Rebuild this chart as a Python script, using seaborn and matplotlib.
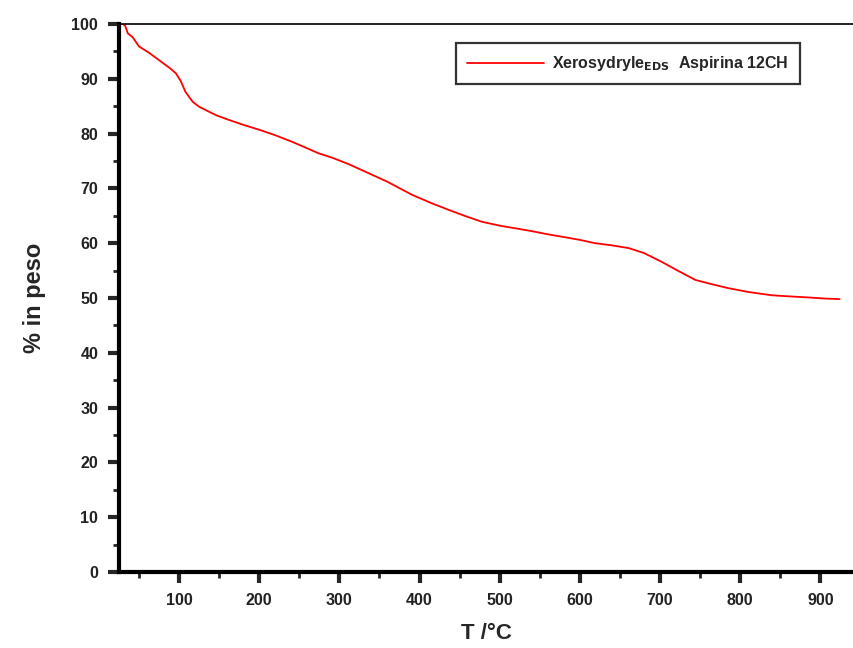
import seaborn as sns
import pandas as pd
import matplotlib.pyplot as plt
from matplotlib.ticker import MultipleLocator

# TGA curve
temp = [25, 30, 33, 36, 42, 50, 62, 75, 88, 96, 102, 108, 117, 125, 133, 147, 162,
        180, 200, 220, 241, 260, 274, 291, 312, 333, 360, 391, 415, 436, 458, 478,
        500, 520, 540, 557, 577, 600, 619, 640, 661, 680, 702, 722, 744, 765, 785,
        810, 839, 860, 885, 905, 924]
weight = [100, 100, 99.6, 98.3, 97.6, 95.9, 94.8, 93.4, 92.0, 91.0, 89.6, 87.6, 85.8,
          84.9, 84.3, 83.3, 82.5, 81.6, 80.7, 79.7, 78.5, 77.3, 76.4, 75.6, 74.4,
          73.0, 71.2, 68.8, 67.3, 66.1, 64.9, 63.9, 63.2, 62.7, 62.2, 61.7, 61.2,
          60.6, 60.0, 59.6, 59.1, 58.2, 56.6, 55.0, 53.3, 52.5, 51.8, 51.1, 50.5,
          50.3, 50.1, 49.9, 49.8]

df = pd.DataFrame({"T": temp, "peso": weight})

sns.set_style("white")
plt.rcParams['font.family'] = ['Liberation Sans', 'DejaVu Sans']
plt.rcParams['font.weight'] = 'bold'

fig = plt.figure(figsize=(8.54, 6.48), dpi=100)
ax = fig.add_axes([0.1393, 0.1173, 0.8607, 0.8457])

sns.lineplot(data=df, x="T", y="peso", color="#ff0000", linewidth=1.3, ax=ax,
             label=r"Xerosydryle$_{\mathbf{EDS}}$  Aspirina 12CH")

ax.set_xlim(25, 942)
ax.set_ylim(0, 100)
ax.xaxis.set_major_locator(MultipleLocator(100))
ax.xaxis.set_minor_locator(MultipleLocator(50))
ax.yaxis.set_major_locator(MultipleLocator(10))
ax.yaxis.set_minor_locator(MultipleLocator(5))

ax.spines['right'].set_visible(False)
ax.spines['top'].set_linewidth(1.2)
ax.spines['left'].set_linewidth(3)
ax.spines['bottom'].set_linewidth(3)
for s in ax.spines.values():
    s.set_color('black')

ax.tick_params(which='major', direction='out', length=8, width=3, pad=7,
               labelsize=11.5, labelcolor='#222222', bottom=True, left=True)
ax.tick_params(which='minor', direction='out', length=4, width=2,
               bottom=True, left=True)
ax.set_xticks([100, 200, 300, 400, 500, 600, 700, 800, 900])
ax.set_yticks([0, 10, 20, 30, 40, 50, 60, 70, 80, 90, 100])
for lab in ax.get_xticklabels() + ax.get_yticklabels():
    lab.set_fontweight('bold')

ax.set_xlabel("T /°C", fontsize=16, fontweight='bold', labelpad=11)
ax.set_ylabel("% in peso", fontsize=17, fontweight='bold', labelpad=18)

leg = ax.legend(loc='upper right', bbox_to_anchor=(0.937, 0.98), fontsize=11.5,
                frameon=True, fancybox=False, shadow=False, handlelength=4.8,
                handletextpad=0.5, borderpad=0.7)
leg.get_frame().set_edgecolor('black')
leg.get_frame().set_linewidth(1.6)
for t in leg.get_texts():
    t.set_fontweight('bold')

plt.savefig("out.png", dpi=100)
